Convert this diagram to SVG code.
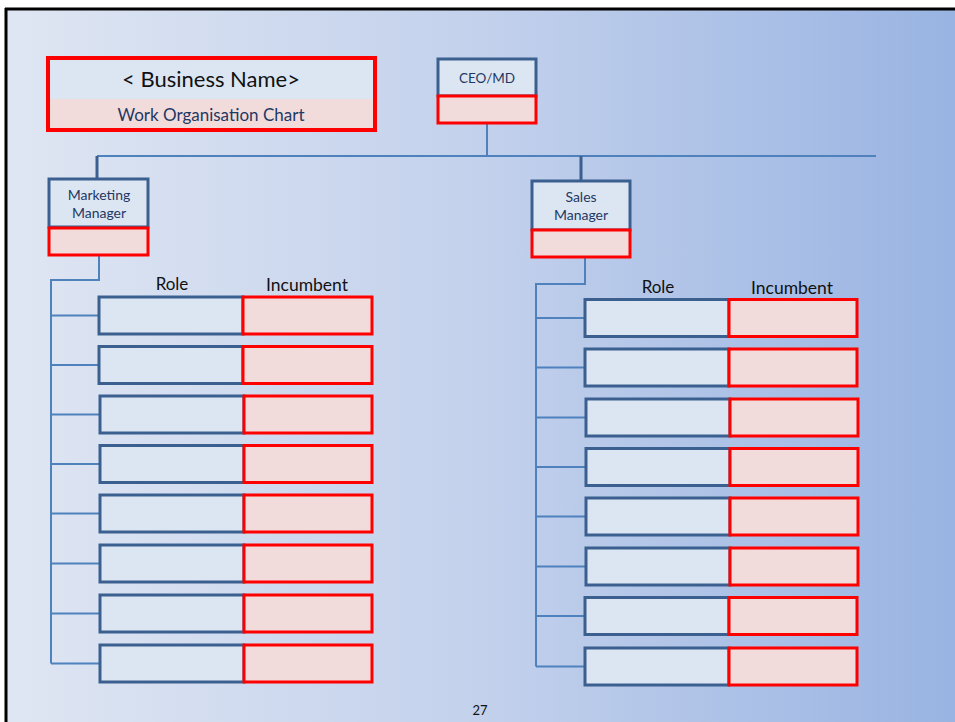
<svg xmlns="http://www.w3.org/2000/svg" width="955" height="722" viewBox="0 0 955 722">
<defs>
<linearGradient id="bg" x1="0" y1="0" x2="1" y2="0">
<stop offset="0" stop-color="#dfe6f3"/>
<stop offset="0.5" stop-color="#c3d1ec"/>
<stop offset="1" stop-color="#99b4e2"/>
</linearGradient>
</defs>
<style>
.bl{fill:#dce6f2;stroke:#3b6090;stroke-width:3}
.rd{fill:#f2dcdb;stroke:#ff0000;stroke-width:3}
.ln{fill:none;stroke:#4f81bd;stroke-width:2}
.dk{fill:none;stroke:#3b6090;stroke-width:3}
.t{font-family:Lato,"Liberation Sans",sans-serif;fill:#1f3864;text-anchor:middle}
.k{font-family:Lato,"Liberation Sans",sans-serif;fill:#111;text-anchor:middle}
</style>
<rect x="0" y="0" width="955" height="722" fill="#ffffff"/>
<rect x="6" y="9" width="949" height="713" fill="url(#bg)"/>
<line x1="5" y1="9" x2="955" y2="9" stroke="#000" stroke-width="3"/>
<line x1="6" y1="8" x2="6" y2="722" stroke="#000" stroke-width="3"/>

<g id="connectors">
<path class="ln" d="M487 124V156M97 156H876"/>
<path class="dk" d="M97 156V179M581 156V181"/>
<path class="ln" d="M99 255V280H51V663.5"/>
<path class="ln" d="M51 315.5H99M51 365H99M51 414.5H99M51 464H99M51 513.5H99M51 563.5H99M51 613.5H99M51 663.5H99"/>
<path class="ln" d="M585 257V284H536V666.5"/>
<path class="ln" d="M536 318H585M536 367.5H585M536 417.5H585M536 467H585M536 516.5H585M536 566.5H585M536 616H585M536 666.5H585"/>
</g>

<g id="title">
<rect x="48" y="58" width="327" height="41" fill="#dce6f2"/>
<rect x="48" y="99" width="327" height="32" fill="#f2dcdb"/>
<rect x="48" y="58" width="327" height="72" fill="none" stroke="#ff0000" stroke-width="4"/>
<text class="k" x="211" y="87" font-size="22">&lt; Business Name&gt;</text>
<text class="t" x="211" y="121" font-size="17">Work Organisation Chart</text>
</g>

<g id="ceo">
<rect class="bl" x="438" y="59" width="98" height="37"/>
<rect class="rd" x="438" y="96" width="98" height="27"/>
<text class="t" x="487" y="83" font-size="13.5">CEO/MD</text>
</g>

<g id="marketing">
<rect class="bl" x="49" y="179" width="99" height="48"/>
<rect class="rd" x="49" y="228" width="99" height="27"/>
<text class="t" x="99" y="200" font-size="14">Marketing</text>
<text class="t" x="99" y="218" font-size="14">Manager</text>
</g>

<g id="sales">
<rect class="bl" x="532" y="181" width="98" height="49"/>
<rect class="rd" x="532" y="230" width="98" height="27"/>
<text class="t" x="581" y="202" font-size="14">Sales</text>
<text class="t" x="581" y="220" font-size="14">Manager</text>
</g>

<g id="left-headers">
<text class="k" x="172" y="290" font-size="17">Role</text>
<text class="k" x="307" y="291" font-size="17.5">Incumbent</text>
</g>
<g id="right-headers">
<text class="k" x="658" y="293" font-size="17">Role</text>
<text class="k" x="792" y="294" font-size="17.5">Incumbent</text>
</g>

<g id="left-rows">
<g id="l1"><rect class="bl" x="99" y="297" width="144" height="37"/><rect class="rd" x="243" y="297" width="129" height="37"/></g>
<g id="l2"><rect class="bl" x="99" y="346.5" width="144" height="37"/><rect class="rd" x="243" y="346.5" width="129" height="37"/></g>
<g id="l3"><rect class="bl" x="100" y="396" width="144" height="37"/><rect class="rd" x="244" y="396" width="128" height="37"/></g>
<g id="l4"><rect class="bl" x="100" y="445.5" width="144" height="37"/><rect class="rd" x="244" y="445.5" width="128" height="37"/></g>
<g id="l5"><rect class="bl" x="100" y="495" width="144" height="37"/><rect class="rd" x="244" y="495" width="128" height="37"/></g>
<g id="l6"><rect class="bl" x="100" y="545" width="144" height="37"/><rect class="rd" x="244" y="545" width="128" height="37"/></g>
<g id="l7"><rect class="bl" x="100" y="595" width="144" height="37"/><rect class="rd" x="244" y="595" width="128" height="37"/></g>
<g id="l8"><rect class="bl" x="100" y="645" width="144" height="37"/><rect class="rd" x="244" y="645" width="128" height="37"/></g>
</g>

<g id="right-rows">
<g id="r1"><rect class="bl" x="585" y="299.5" width="144" height="37"/><rect class="rd" x="729" y="299.5" width="128" height="37"/></g>
<g id="r2"><rect class="bl" x="585" y="349" width="144" height="37"/><rect class="rd" x="729" y="349" width="128" height="37"/></g>
<g id="r3"><rect class="bl" x="586" y="399" width="144" height="37"/><rect class="rd" x="730" y="399" width="128" height="37"/></g>
<g id="r4"><rect class="bl" x="586" y="448.5" width="144" height="37"/><rect class="rd" x="730" y="448.5" width="128" height="37"/></g>
<g id="r5"><rect class="bl" x="586" y="498" width="144" height="37"/><rect class="rd" x="730" y="498" width="128" height="37"/></g>
<g id="r6"><rect class="bl" x="586" y="548" width="144" height="37"/><rect class="rd" x="730" y="548" width="128" height="37"/></g>
<g id="r7"><rect class="bl" x="585" y="597.5" width="144" height="37"/><rect class="rd" x="729" y="597.5" width="128" height="37"/></g>
<g id="r8"><rect class="bl" x="585" y="648" width="144" height="37"/><rect class="rd" x="729" y="648" width="128" height="37"/></g>
</g>

<text class="k" x="480" y="715" font-size="13">27</text>
</svg>
